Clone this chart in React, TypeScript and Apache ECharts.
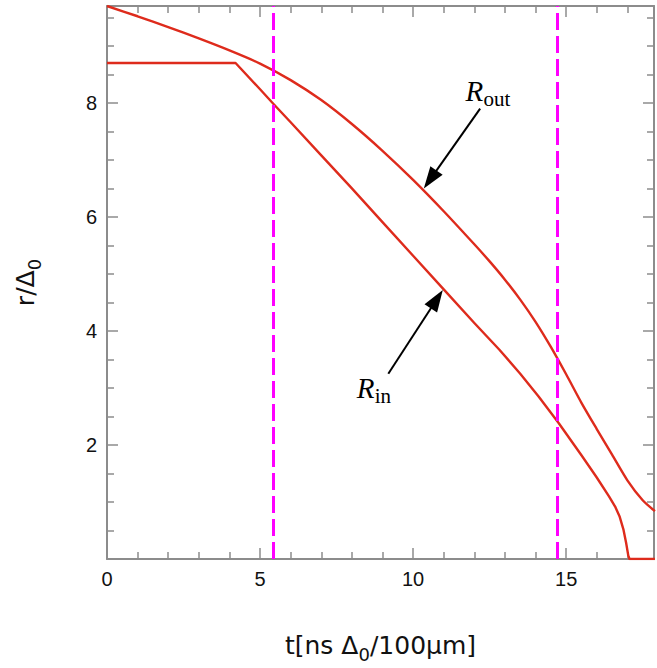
import React, { useEffect, useRef } from "react";
import * as echarts from "echarts";

// ---- data ----
const tOut = [0, 1.0, 2.0, 3.0, 4.0, 5.0, 6.0, 7.0, 8.0, 9.0, 10.0, 11.0, 12.0, 12.5, 13.0, 13.5, 14.0, 14.5, 15.0, 15.5, 16.0, 16.5, 17.0, 17.5, 17.9];
const rOut = [9.7, 9.52, 9.33, 9.13, 8.92, 8.69, 8.4, 8.05, 7.63, 7.16, 6.65, 6.1, 5.52, 5.22, 4.9, 4.55, 4.16, 3.72, 3.24, 2.74, 2.28, 1.83, 1.38, 1.03, 0.84];

const tIn = [0, 4.2, 5.0, 5.44, 6.0, 7.0, 8.0, 9.0, 10.0, 11.0, 12.0, 12.82, 13.5, 14.1, 14.76, 15.5, 16.0, 16.4, 16.6, 16.75, 16.87, 16.96, 17.03, 17.07, 17.9];
const rIn = [8.7, 8.7, 8.24, 7.98, 7.66, 7.08, 6.5, 5.91, 5.32, 4.73, 4.14, 3.67, 3.25, 2.85, 2.38, 1.82, 1.43, 1.1, 0.92, 0.74, 0.52, 0.28, 0.06, 0.0, 0.0];

const dashedT = [5.42, 14.7];
const xTickLabels = [0, 5, 10, 15];
const yTickLabels = [2, 4, 6, 8];

// annotation anchors (data coordinates)
const routArrowFrom = [12.19, 7.9];
const routArrowTo = [10.35, 6.5];
const rinArrowFrom = [9.19, 3.25];
const rinArrowTo = [10.97, 4.72];
const routLabelAt = [11.71, 7.95];
const rinLabelAt = [8.16, 2.75];

const SANS = '"Liberation Sans", Arial, Helvetica, sans-serif';
const TITLE = '"DejaVu Sans", "Liberation Sans", sans-serif';
const SERIF = '"Liberation Serif", "Times New Roman", serif';

export default function App() {
  const ref = useRef<HTMLDivElement>(null);

  useEffect(() => {
    document.body.style.margin = "0";
    const chart = echarts.init(ref.current!, null, { renderer: "svg" });
    const axisColor = "#8c8c8c";
    const curveColor = "#de2b1c";

    const common = {
      type: "value",
      splitLine: { show: false },
      minorSplitLine: { show: false },
    };
    const tickStyle = { color: axisColor, width: 1.5 };

    const titleRich = {
      a: { fontSize: 25, fontFamily: TITLE, color: "#111", lineHeight: 36, verticalAlign: "middle" },
      b: { fontSize: 18, fontFamily: TITLE, color: "#111", lineHeight: 36, verticalAlign: "bottom" },
    };

    const xMax = 17.87;
    const yMax = 9.7;

    const option: any = {
      animation: false,
      backgroundColor: "#ffffff",
      grid: { left: 107, right: -4, top: 6, bottom: 104 },
      xAxis: [
        {
          ...common,
          min: 0,
          max: xMax,
          interval: 5,
          position: "bottom",
          axisLine: { show: true, onZero: false, lineStyle: { color: axisColor, width: 2 } },
          axisTick: { show: true, inside: true, length: 11, lineStyle: tickStyle },
          minorTick: { show: true, splitNumber: 5, length: 7, lineStyle: tickStyle },
          axisLabel: {
            formatter: (v: number) => (xTickLabels.includes(v) ? String(v) : ""),
            fontSize: 20,
            color: "#111",
            fontFamily: SANS,
            margin: 10,
          },
          name: "{a|t[ns Δ}{b|0}{a|/100μm]}",
          nameLocation: "middle",
          nameGap: 68,
          nameTextStyle: { rich: titleRich },
        },
        {
          ...common,
          min: 0,
          max: xMax,
          interval: 5,
          position: "top",
          axisLine: { show: true, onZero: false, lineStyle: { color: axisColor, width: 2 } },
          axisTick: { show: true, inside: true, length: 11, lineStyle: tickStyle },
          minorTick: { show: true, splitNumber: 5, length: 7, lineStyle: tickStyle },
          axisLabel: { show: false },
        },
      ],
      yAxis: [
        {
          ...common,
          min: 0,
          max: yMax,
          interval: 2,
          position: "left",
          axisLine: { show: true, onZero: false, lineStyle: { color: axisColor, width: 2 } },
          axisTick: { show: true, inside: true, length: 11, lineStyle: tickStyle },
          minorTick: { show: true, splitNumber: 4, length: 7, lineStyle: tickStyle },
          axisLabel: {
            formatter: (v: number) => (yTickLabels.includes(v) ? String(v) : ""),
            fontSize: 20,
            color: "#111",
            fontFamily: SANS,
            margin: 10,
          },
          name: "{a|r/Δ}{b|0}",
          nameLocation: "middle",
          nameRotate: 90,
          nameGap: 64,
          nameTextStyle: { rich: titleRich },
        },
        {
          ...common,
          min: 0,
          max: yMax,
          interval: 2,
          position: "right",
          axisLine: { show: true, onZero: false, lineStyle: { color: axisColor, width: 2 } },
          axisTick: { show: true, inside: true, length: 11, lineStyle: tickStyle },
          minorTick: { show: true, splitNumber: 4, length: 7, lineStyle: tickStyle },
          axisLabel: { show: false },
        },
      ],
      series: [
        {
          name: "Rout",
          type: "line",
          xAxisIndex: 0,
          yAxisIndex: 0,
          data: tOut.map((t, i) => [t, rOut[i]]),
          showSymbol: false,
          symbol: "none",
          smooth: 0.25,
          lineStyle: { color: curveColor, width: 2.4 },
          silent: true,
          z: 3,
        },
        {
          name: "Rin",
          type: "line",
          xAxisIndex: 0,
          yAxisIndex: 0,
          data: tIn.map((t, i) => [t, rIn[i]]),
          showSymbol: false,
          symbol: "none",
          lineStyle: { color: curveColor, width: 2.4, join: "round" },
          silent: true,
          z: 3,
          markLine: {
            silent: true,
            symbol: ["none", "none"],
            label: { show: false },
            lineStyle: { color: "#ff00ff", width: 3, type: [17, 6] },
            emphasis: { disabled: true },
            data: dashedT.map((x) => ({ xAxis: x })),
            z: 5,
          },
        },
      ],
    };

    chart.setOption(option);

    const px = (p: number[]) => chart.convertToPixel({ seriesIndex: 0 }, p) as number[];

    const arrow = (from: number[], to: number[]) => {
      const a = px(from);
      const b = px(to);
      const dx = b[0] - a[0];
      const dy = b[1] - a[1];
      const len = Math.hypot(dx, dy);
      const ux = dx / len;
      const uy = dy / len;
      const L = 22;
      const W = 7.5;
      const bx = b[0] - ux * L;
      const by = b[1] - uy * L;
      const nx = -uy;
      const ny = ux;
      return [
        {
          type: "line",
          shape: { x1: a[0], y1: a[1], x2: bx + ux * 2, y2: by + uy * 2 },
          style: { stroke: "#000", lineWidth: 2 },
          silent: true,
          z: 10,
        },
        {
          type: "polygon",
          shape: {
            points: [
              [b[0], b[1]],
              [bx + nx * W, by + ny * W],
              [bx - nx * W, by - ny * W],
            ],
          },
          style: { fill: "#000" },
          silent: true,
          z: 10,
        },
      ];
    };

    const label = (at: number[], sub: string) => {
      const p = px(at);
      return [
        {
          type: "text",
          x: p[0],
          y: p[1],
          silent: true,
          z: 10,
          style: {
            text: "R",
            fontSize: 29,
            fontStyle: "italic",
            fontFamily: SERIF,
            fill: "#000",
            align: "left",
            verticalAlign: "bottom",
          },
        },
        {
          type: "text",
          x: p[0] + 18,
          y: p[1] + 4,
          silent: true,
          z: 10,
          style: {
            text: sub,
            fontSize: 21,
            fontFamily: SERIF,
            fill: "#000",
            align: "left",
            verticalAlign: "bottom",
          },
        },
      ];
    };

    chart.setOption({
      graphic: [
        ...arrow(routArrowFrom, routArrowTo),
        ...arrow(rinArrowFrom, rinArrowTo),
        ...label(routLabelAt, "out"),
        ...label(rinLabelAt, "in"),
      ],
    });

    return () => {
      chart.dispose();
    };
  }, []);

  return <div ref={ref} style={{ width: 657, height: 668 }} />;
}
